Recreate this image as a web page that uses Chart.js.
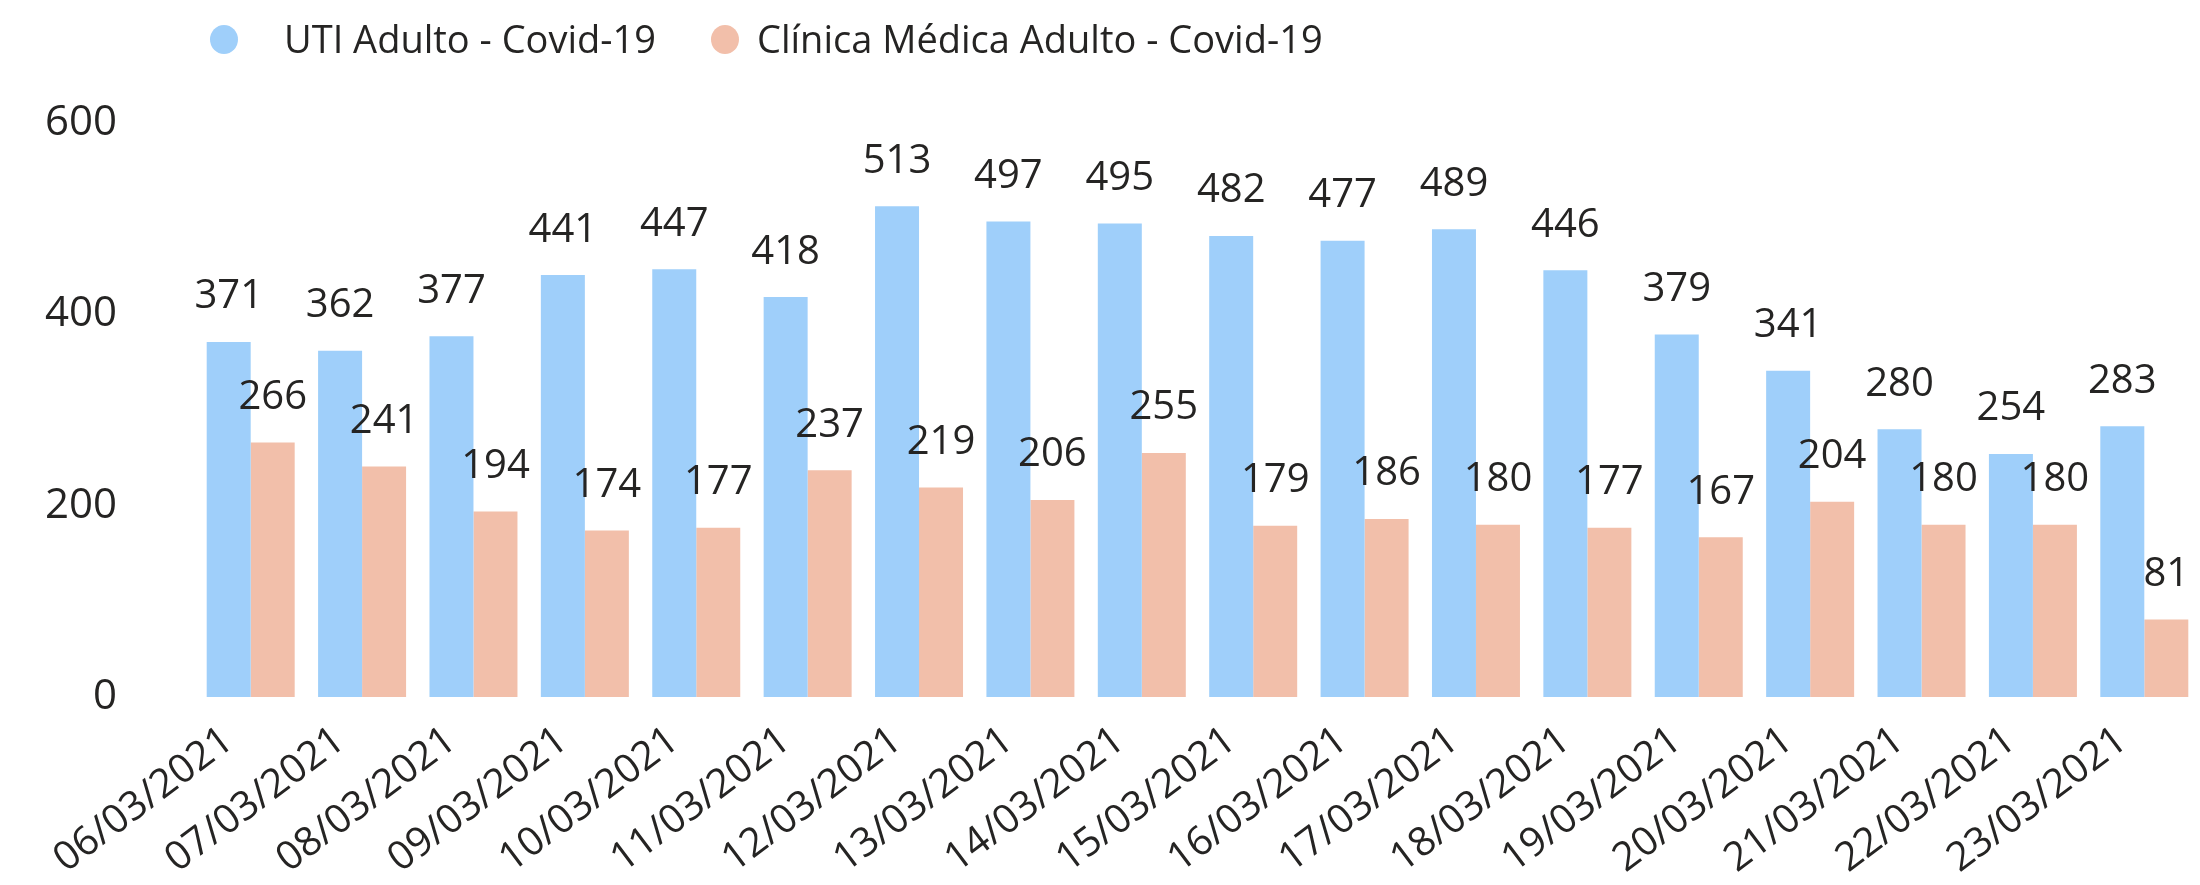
<!DOCTYPE html>
<html>
<head>
<meta charset="utf-8">
<script src="https://cdn.jsdelivr.net/npm/chart.js@4.4.1/dist/chart.umd.min.js"></script>
<style>
    html, body { margin: 0; padding: 0; background: #fff; }
    .wrap { position: relative; width: 2200px; height: 885px; }
    .legend { position: absolute; left: 0; top: 0; width: 2200px; height: 80px;
              font-family: 'Open Sans', sans-serif; font-size: 38px; color: #252423; }
    .legend .dot { position: absolute; top: 25px; width: 28px; height: 29px; border-radius: 50%; }
    .legend .txt { position: absolute; top: 12px; line-height: 52px; white-space: nowrap; }
</style>
</head>
<body>
<div class="wrap">
    <canvas id="chart" width="2200" height="885"></canvas>
    <div class="legend" id="legend"></div>
</div>
<script>
// chart data
const labels = ['06/03/2021', '07/03/2021', '08/03/2021', '09/03/2021', '10/03/2021', '11/03/2021',
    '12/03/2021', '13/03/2021', '14/03/2021', '15/03/2021', '16/03/2021', '17/03/2021',
    '18/03/2021', '19/03/2021', '20/03/2021', '21/03/2021', '22/03/2021', '23/03/2021'];
const utiAdulto = [371, 362, 377, 441, 447, 418, 513, 497, 495, 482, 477, 489, 446, 379, 341, 280, 254, 283];
const clinicaMedica = [266, 241, 194, 174, 177, 237, 219, 206, 255, 179, 186, 180, 177, 167, 204, 180, 180, 81];
const seriesNames = ['UTI Adulto - Covid-19', 'Clínica Médica Adulto - Covid-19'];
const yTicks = [0, 200, 400, 600];

const colors = ['#9FCFFA', '#F2BFAA'];
const textColor = '#252423';
const font = "'Open Sans', sans-serif";

// value labels above bars
const barValues = {
    id: 'barValues',
    afterDatasetsDraw(chart) {
        const ctx = chart.ctx;
        ctx.save();
        ctx.font = `40px ${font}`;
        ctx.fillStyle = textColor;
        ctx.textAlign = 'center';
        ctx.textBaseline = 'bottom';
        chart.data.datasets.forEach((ds, i) => {
            chart.getDatasetMeta(i).data.forEach((bar, j) => {
                ctx.fillText(ds.data[j], bar.x, bar.y - 25);
            });
        });
        ctx.restore();
    }
};

new Chart(document.getElementById('chart'), {
    type: 'bar',
    data: {
        labels: labels,
        datasets: [
            { label: seriesNames[0], data: utiAdulto, backgroundColor: colors[0] },
            { label: seriesNames[1], data: clinicaMedica, backgroundColor: colors[1] }
        ]
    },
    options: {
        responsive: false,
        animation: false,
        layout: { padding: { top: 123, right: 0, left: 0, bottom: 0 } },
        datasets: { bar: { categoryPercentage: 0.79, barPercentage: 1 } },
        plugins: { legend: { display: false }, tooltip: { enabled: false } },
        scales: {
            x: {
                grid: { display: false },
                border: { display: false },
                afterFit: (s) => { s.height = 188; },
                ticks: {
                    color: textColor,
                    font: { family: font, size: 40 },
                    minRotation: 37, maxRotation: 37,
                    autoSkip: false,
                    padding: 12,
                    labelOffset: -22
                }
            },
            y: {
                min: 0, max: 600,
                grid: { display: false },
                border: { display: false },
                afterFit: (s) => { s.width = 195; },
                afterBuildTicks: (s) => { s.ticks = yTicks.map(v => ({ value: v })); },
                ticks: {
                    color: textColor,
                    font: { family: font, size: 42 },
                    padding: 70
                }
            }
        }
    },
    plugins: [barValues]
});

// legend (fixed positions as in the original)
const legend = document.getElementById('legend');
const legendPos = [{ dot: 210, txt: 284 }, { dot: 711, txt: 757 }];
seriesNames.forEach((name, i) => {
    const dot = document.createElement('span');
    dot.className = 'dot';
    dot.style.left = legendPos[i].dot + 'px';
    dot.style.background = colors[i];
    const txt = document.createElement('span');
    txt.className = 'txt';
    txt.style.left = legendPos[i].txt + 'px';
    txt.textContent = name;
    legend.appendChild(dot);
    legend.appendChild(txt);
});
</script>
</body>
</html>
